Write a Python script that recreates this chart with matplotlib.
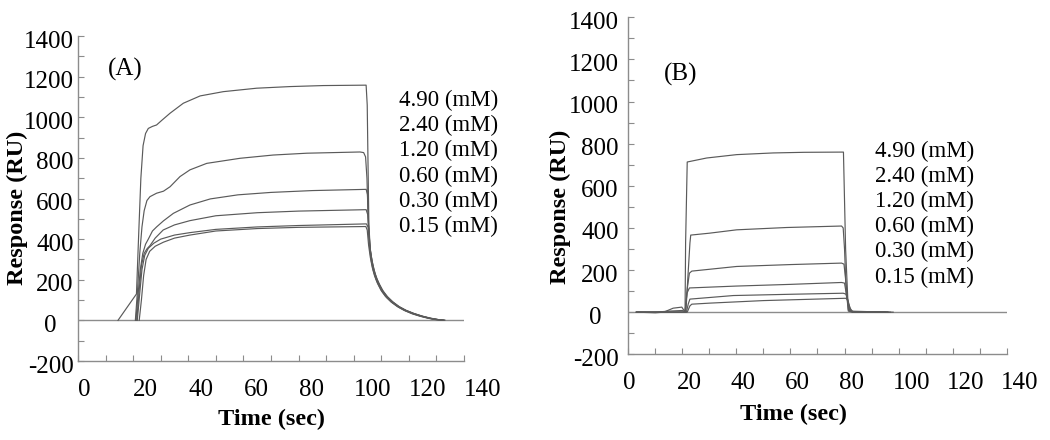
import matplotlib
matplotlib.use("Agg")
import matplotlib.pyplot as plt
from matplotlib.ticker import MultipleLocator
from matplotlib.transforms import ScaledTranslation

plt.rcParams['font.family'] = ['Liberation Serif', 'DejaVu Serif']
plt.rcParams['axes.unicode_minus'] = False

# concentration labels (same for both panels)
conc_labels = ['4.90 (mM)', '2.40 (mM)', '1.20 (mM)', '0.60 (mM)', '0.30 (mM)', '0.15 (mM)']

# ---- panel A sensorgrams (time in sec, response in RU)
a_t_490 = [14.5, 21.2, 22.0, 22.8, 23.6, 24.5, 25.5, 27.0, 28.5, 30.4, 33.4, 38.2, 44.3, 52.7,
           64.8, 76.9, 89.0, 104.5, 104.9, 105.2, 105.5, 106.0, 106.6, 107.3, 108.2, 109.2,
           110.6, 112.2, 114.2, 116.5, 119.0, 121.8, 124.8, 127.8, 130.5, 133.0]
a_y_490 = [0, 130, 420, 700, 860, 920, 945, 955, 962, 985, 1020, 1069, 1105, 1126,
           1143, 1151, 1156, 1158, 1060, 760, 470, 350, 290, 245, 205, 175,
           140, 113, 88, 65, 48, 33, 20, 10, 4, 1]

a_t_240 = [20.8, 21.6, 22.4, 23.2, 24.0, 25.0, 26.1, 28.5, 31.0, 33.4, 37.0, 40.6, 46.7, 58.8,
           70.8, 83.0, 102.3, 103.6, 104.3, 104.8, 105.3, 105.8, 106.4, 107.1, 108.0, 109.0,
           110.4, 112.0, 114.0, 116.3, 118.8, 121.5, 124.5, 127.5, 130.0, 132.0]
a_y_240 = [0, 150, 330, 460, 540, 590, 609, 626, 636, 658, 708, 741, 773, 798,
           814, 823, 829, 826, 805, 700, 470, 350, 290, 245, 205, 174,
           140, 112, 87, 65, 47, 32, 20, 10, 4, 1]

a_t_120 = [21.0, 21.8, 22.6, 23.5, 24.5, 25.5, 27.0, 28.5, 31.0, 34.6, 40.6, 48.0, 58.0,
           70.0, 85.0, 104.5, 105.0, 105.4, 105.9, 106.5, 107.2, 108.1, 109.1, 110.5, 112.1,
           114.1, 116.4, 118.9, 121.7, 124.7, 127.6, 130.2, 132.5]
a_y_120 = [0, 130, 250, 330, 375, 400, 440, 460, 490, 527, 568, 598, 618,
           630, 639, 645, 620, 470, 350, 292, 247, 207, 176, 142, 114,
           89, 66, 48, 33, 20, 10, 4, 1]

a_t_060 = [21.3, 22.2, 23.0, 24.0, 25.0, 26.1, 28.0, 30.9, 35.0, 40.6, 50.0, 65.0, 80.0,
           104.5, 105.1, 105.6, 106.1, 106.7, 107.4, 108.3, 109.3, 110.7, 112.3, 114.3,
           116.6, 119.1, 121.9, 124.9, 127.9, 130.6, 133.0]
a_y_060 = [0, 150, 270, 330, 352, 368, 405, 445, 470, 491, 515, 530, 538,
           545, 520, 420, 340, 290, 247, 208, 178, 144, 116, 90,
           67, 49, 34, 21, 11, 4, 1]

a_t_030 = [21.5, 22.3, 23.2, 24.2, 25.5, 27.5, 30.0, 35.0, 40.6, 50.0, 65.0, 80.0,
           104.6, 105.2, 105.7, 106.3, 107.0, 107.8, 108.8, 110.2, 111.8, 113.8, 116.1,
           118.6, 121.4, 124.4, 127.4, 130.0, 132.5]
a_y_030 = [0, 120, 250, 320, 355, 380, 400, 420, 432, 448, 460, 467,
           475, 460, 380, 320, 270, 228, 192, 152, 121, 94, 70,
           51, 35, 22, 11, 5, 1]

a_t_015 = [22.2, 23.0, 23.8, 24.7, 26.0, 28.0, 31.0, 35.0, 40.6, 50.0, 65.0, 80.0,
           104.4, 104.9, 105.4, 106.0, 106.7, 107.5, 108.5, 109.9, 111.5, 113.5, 115.8,
           118.3, 121.1, 124.1, 127.1, 129.5, 131.5]
a_y_015 = [0, 100, 220, 300, 340, 365, 385, 405, 420, 440, 452, 458,
           462, 445, 370, 312, 262, 222, 186, 148, 118, 91, 68,
           49, 33, 20, 10, 4, 1]

# ---- panel B sensorgrams
b_t_490 = [3, 8, 10, 12, 13.1, 16.6, 19.8, 21.0, 21.2, 21.8, 29.0, 40.1, 53.6, 65.0, 78.9,
           79.6, 80.4, 81.4, 83.0, 86.0, 90.0, 94.0, 98.0]
b_y_490 = [0, -2, -3, -1, 0, 19, 24, 0, 330, 713, 732, 748, 756, 759, 760,
           760, 300, 5, 0, 2, 0, 1, 0]

b_t_240 = [3, 10, 15, 20.0, 21.3, 22.2, 22.8, 23.1, 30.0, 40.1, 58.6, 78.9, 79.5, 80.0, 80.6,
           81.4, 83.0, 90.0, 97.0]
b_y_240 = [0, 0, 5, 8, 0, 200, 328, 366, 375, 391, 402, 409, 400, 300, 100,
           10, 0, 1, 0]

b_t_120 = [3, 12, 21.0, 21.9, 22.6, 23.5, 40.1, 60.0, 78.9, 79.8, 80.7, 81.5, 84.0, 95.0]
b_y_120 = [0, 0, 0, 120, 185, 195, 217, 226, 233, 228, 120, 10, 0, 0]

b_t_060 = [3, 21.0, 21.7, 22.6, 40.0, 60.0, 78.9, 80.0, 81.0, 82.0, 96.0]
b_y_060 = [0, 0, 90, 115, 124, 132, 141, 138, 60, 5, 0]

b_t_030 = [3, 21.5, 22.2, 22.8, 38.9, 60.0, 79.5, 80.5, 81.5, 82.5, 96.0]
b_y_030 = [0, 0, 40, 62, 79, 85, 90, 86, 40, 3, 0]

b_t_015 = [3, 21.8, 22.8, 23.5, 30.2, 50.0, 80.4, 81.2, 82.0, 83.0, 96.0]
b_y_015 = [0, 0, 30, 38, 43, 55, 66, 60, 20, 2, 0]

curves_a = [(a_t_490, a_y_490), (a_t_240, a_y_240), (a_t_120, a_y_120),
            (a_t_060, a_y_060), (a_t_030, a_y_030), (a_t_015, a_y_015)]
curves_b = [(b_t_490, b_y_490), (b_t_240, b_y_240), (b_t_120, b_y_120),
            (b_t_060, b_y_060), (b_t_030, b_y_030), (b_t_015, b_y_015)]

W, H = 1050, 440
fig = plt.figure(figsize=(W / 100, H / 100), dpi=100)
axA = fig.add_axes([78 / W, (H - 361) / H, 386 / W, 325 / H])
axB = fig.add_axes([628.3 / W, (H - 354.3) / H, 378.4 / W, 337 / H])

axis_col = '#8c8c8c'
line_col = '#5a5a5a'


def style_axis(ax, xlab_shift, ypad):
    ax.set_xlim(0, 140)
    ax.set_ylim(-200, 1400)
    ax.axhline(0, color=axis_col, lw=1.0, zorder=1)
    for s in ['top', 'right']:
        ax.spines[s].set_visible(False)
    for s in ['left', 'bottom']:
        ax.spines[s].set_color(axis_col)
        ax.spines[s].set_linewidth(1.0)
    ax.xaxis.set_major_locator(MultipleLocator(20))
    ax.xaxis.set_minor_locator(MultipleLocator(10))
    ax.yaxis.set_major_locator(MultipleLocator(200))
    ax.yaxis.set_minor_locator(MultipleLocator(100))
    ax.tick_params(which='both', direction='in', length=4, width=0.8, color=axis_col,
                   labelsize=18)
    ax.tick_params(axis='x', pad=13)
    ax.tick_params(axis='y', pad=ypad)
    fig.canvas.draw()
    for lab in ax.get_xticklabels():
        lab.set_horizontalalignment('left')
        lab.set_transform(lab.get_transform() + ScaledTranslation(xlab_shift / 100, 0, fig.dpi_scale_trans))
    for lab in ax.get_yticklabels():
        dx = -17 if lab.get_text() == '0' else 0
        lab.set_transform(lab.get_transform() + ScaledTranslation(dx / 100, -3 / 100, fig.dpi_scale_trans))


style_axis(axA, 0, 3)
style_axis(axB, -5.5, 7)

for t, y in curves_a:
    axA.plot(t, y, color=line_col, lw=0.85)
for t, y in curves_b:
    axB.plot(t, y, color=line_col, lw=0.85)

axA.text(17, 1233, '(A)', fontsize=18, ha='center', va='center')
axB.text(19.2, 1128, '(B)', fontsize=18, ha='center', va='center')

for i, lab in enumerate(conc_labels):
    axA.text(116.4, 1085 - 125 * i, lab, fontsize=16.5, ha='left', va='center')
    axB.text(91.4, 762 - 119 * i, lab, fontsize=16.5, ha='left', va='center')

fig.text(17 / W, 1 - 208 / H, 'Response (RU)', rotation=90, ha='center', va='center',
         fontsize=17.5, fontweight='bold')
fig.text(560 / W, 1 - 207 / H, 'Response (RU)', rotation=90, ha='center', va='center',
         fontsize=17.5, fontweight='bold')
fig.text(271 / W, 1 - 419 / H, 'Time (sec)', ha='center', va='center',
         fontsize=17.5, fontweight='bold')
fig.text(793 / W, 1 - 414 / H, 'Time (sec)', ha='center', va='center',
         fontsize=17.5, fontweight='bold')

fig.savefig('out.png', dpi=100)
